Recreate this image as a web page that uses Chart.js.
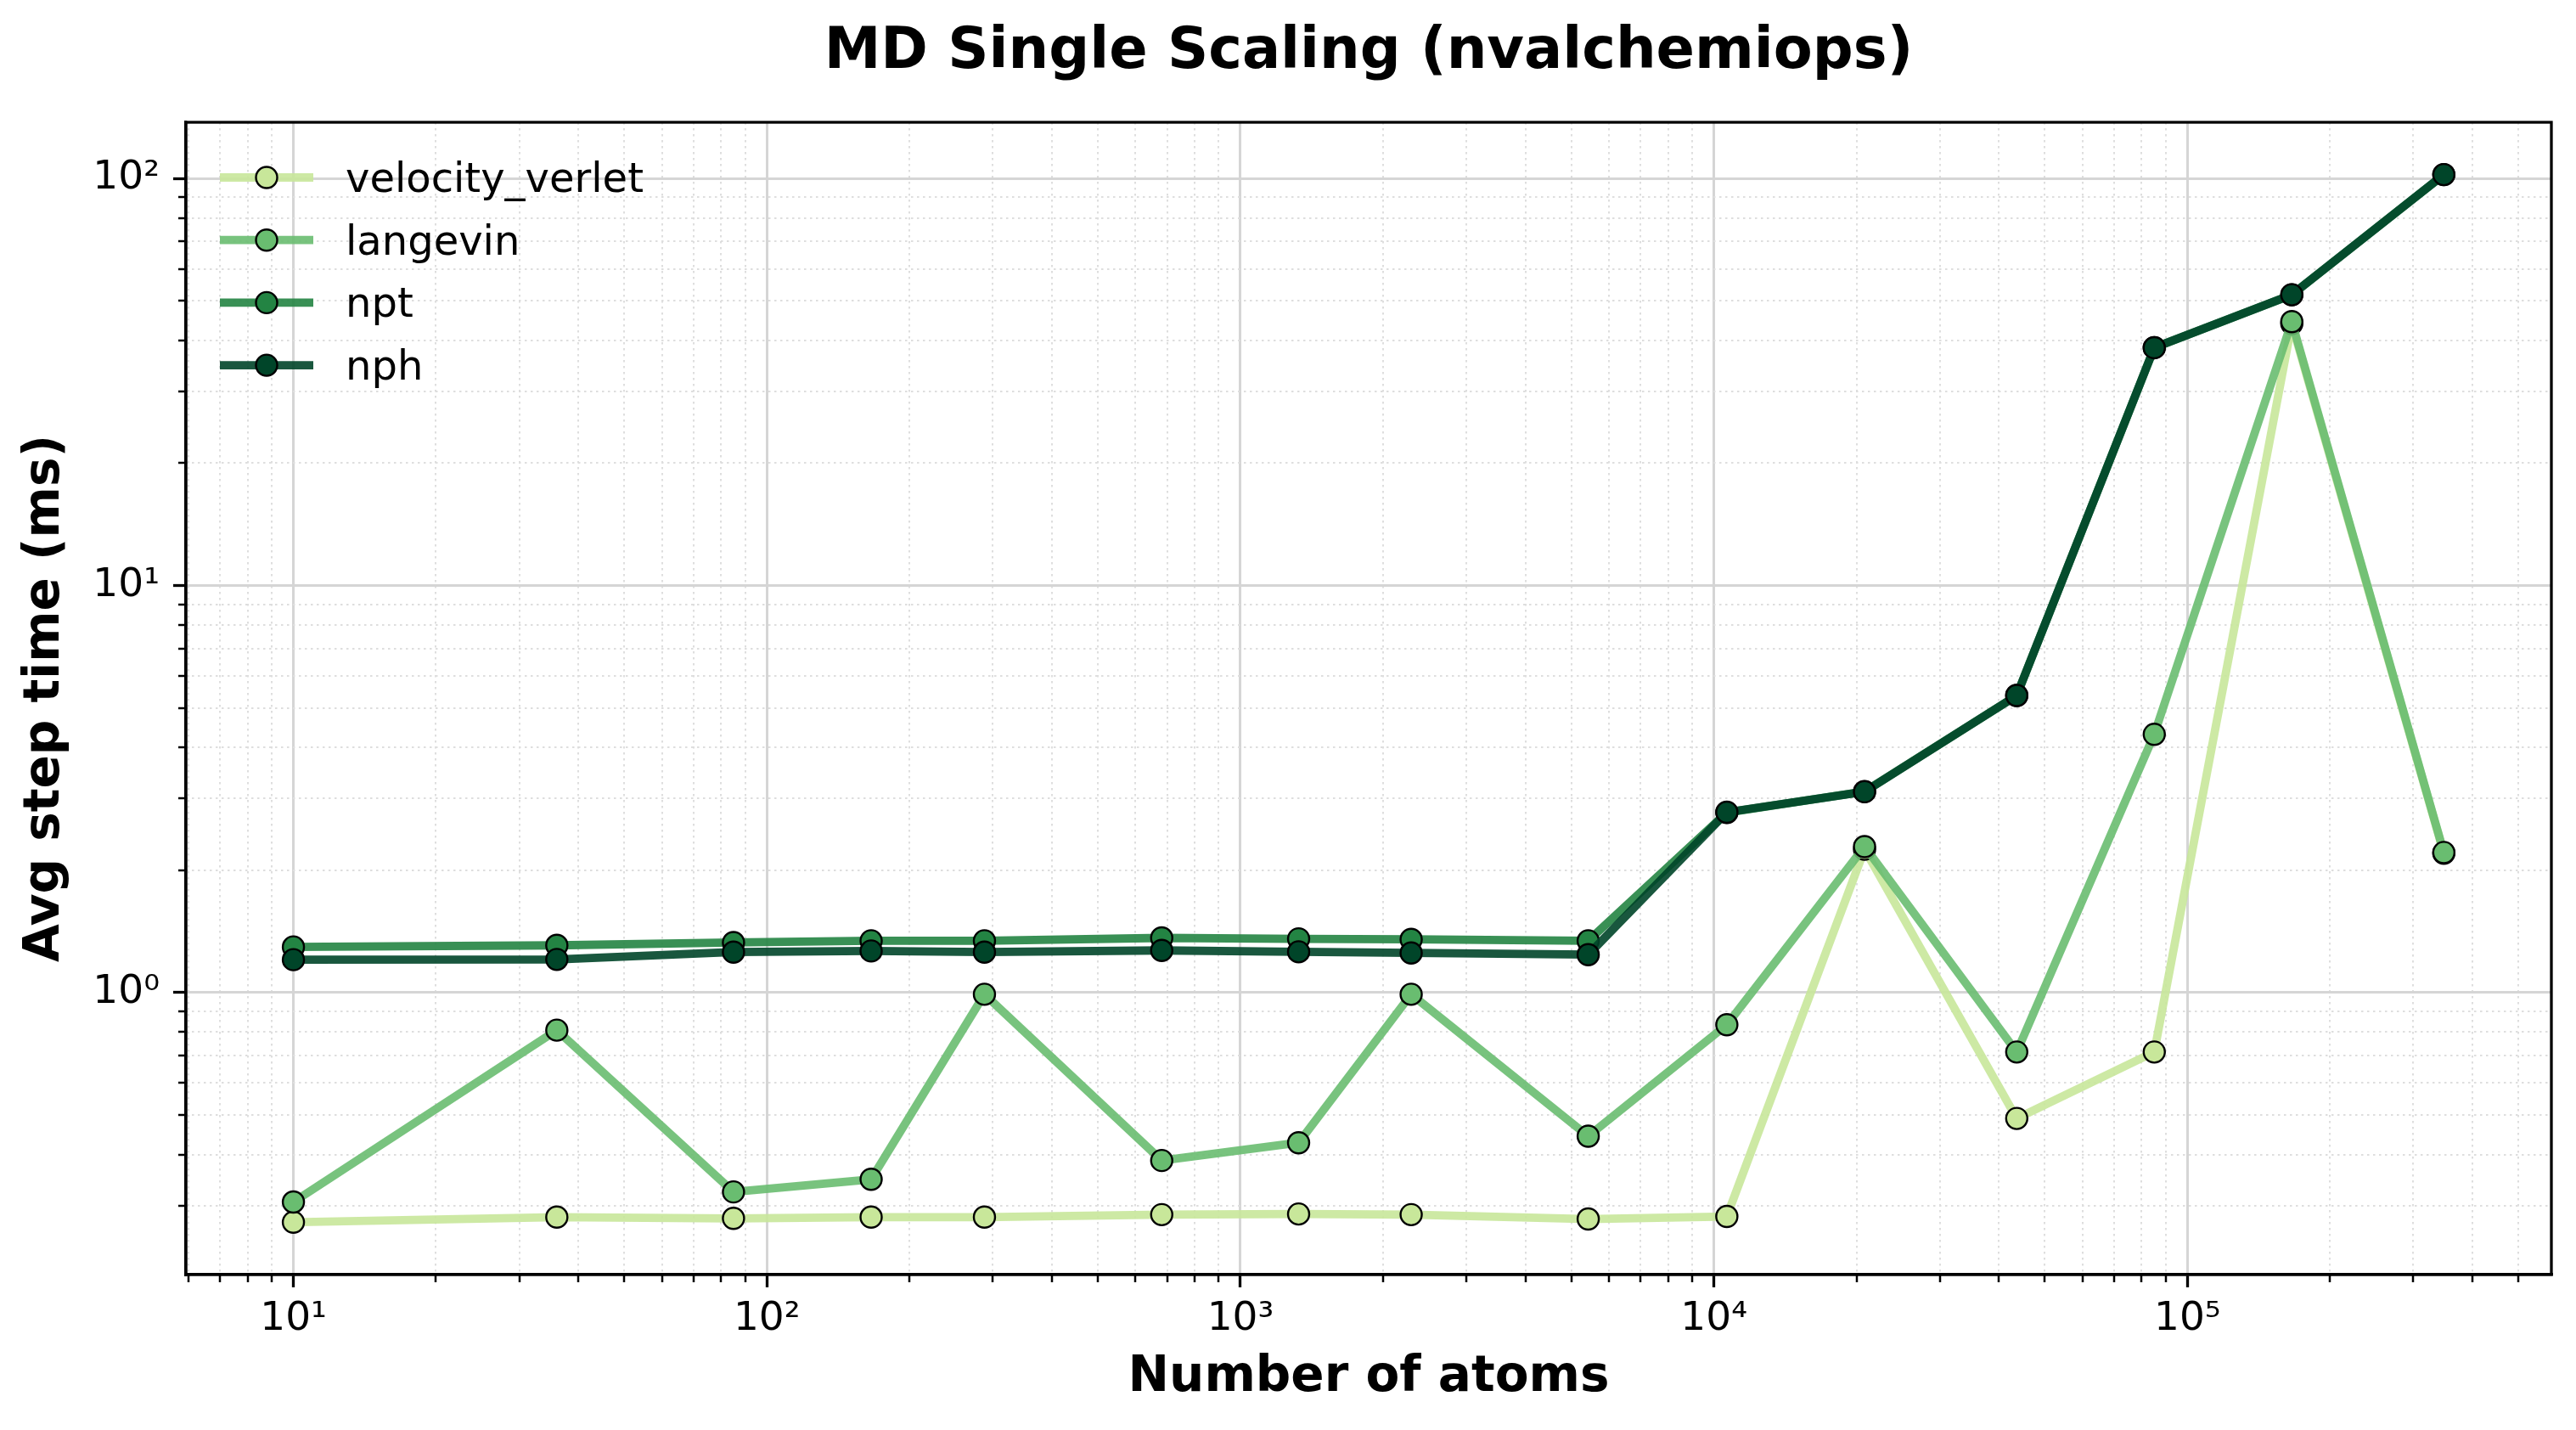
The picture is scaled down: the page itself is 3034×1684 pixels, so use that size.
<!DOCTYPE html>
<html>
<head>
<meta charset="utf-8">
<script src="https://cdn.jsdelivr.net/npm/chart.js@4.4.1/dist/chart.umd.min.js"></script>
<style>
html,body{margin:0;padding:0;background:#fff;}
canvas{display:block;}
</style>
</head>
<body>
<canvas id="c" width="3034" height="1684"></canvas>
<script>
// ---- data ----
const atoms = [10, 36, 85, 166, 288, 682, 1327, 2294, 5426, 10647, 20800, 43600, 85100, 166100, 347900];
const velocityVerlet = [0.273, 0.281, 0.279, 0.281, 0.281, 0.285, 0.286, 0.285, 0.278, 0.282, 2.25, 0.491, 0.715, 44.0, 2.2];
const langevin = [0.306, 0.809, 0.324, 0.348, 0.991, 0.387, 0.428, 0.991, 0.444, 0.834, 2.285, 0.715, 4.31, 44.5, 2.21];
const npt = [1.295, 1.307, 1.328, 1.341, 1.341, 1.363, 1.356, 1.352, 1.341, 2.77, 3.12, 5.37, 38.4, 51.8, 102.2];
const nph = [1.205, 1.207, 1.258, 1.266, 1.258, 1.270, 1.260, 1.252, 1.240, 2.775, 3.115, 5.37, 38.4, 51.8, 102.2];

const seriesNames = ['velocity_verlet', 'langevin', 'npt', 'nph'];
const seriesValues = [velocityVerlet, langevin, npt, nph];
const seriesColors = ['#c8e79a', '#69bd70', '#238443', '#004529'];

const xTickValues = [10, 100, 1000, 10000, 100000];
const xTickLabels = ['10\u00B9', '10\u00B2', '10\u00B3', '10\u2074', '10\u2075'];
const yTickValues = [1, 10, 100];
const yTickLabels = ['10\u2070', '10\u00B9', '10\u00B2'];

const titleText = 'MD Single Scaling (nvalchemiops)';
const xTitle = 'Number of atoms';
const yTitle = 'Avg step time (ms)';

// ---- helpers ----
function rgba(hex, a) {
  const n = parseInt(hex.slice(1), 16);
  return `rgba(${(n >> 16) & 255},${(n >> 8) & 255},${n & 255},${a})`;
}
function minorTicks(lo, hi) {
  const out = [];
  for (let d = -2; d <= 6; d++) {
    for (let m = 2; m <= 9; m++) {
      const v = m * Math.pow(10, d);
      if (v > lo && v < hi) out.push({value: v});
    }
  }
  return out;
}

const X_MIN = 5.93, X_MAX = 586900;
const Y_MIN = 0.203, Y_MAX = 137.4;
const FONT = 'DejaVu Sans';

Chart.defaults.font.family = FONT;
Chart.defaults.color = '#000';

const datasets = seriesNames.map((name, i) => ({
  label: name,
  data: atoms.map((a, j) => ({x: a, y: seriesValues[i][j]})),
  borderColor: rgba(seriesColors[i], 0.9),
  backgroundColor: seriesColors[i],
  pointBackgroundColor: seriesColors[i],
  pointBorderColor: '#000',
  pointBorderWidth: 2.4,
  pointRadius: 12.5,
  pointHoverRadius: 12.5,
  borderWidth: 9.8,
  borderJoinStyle: 'round',
  borderCapStyle: 'square',
  tension: 0,
  fill: false,
  order: seriesNames.length - i
}));

const framePlugin = {
  id: 'frame',
  afterDatasetsDraw(chart) {
    const {ctx, chartArea: a} = chart;
    ctx.save();
    ctx.strokeStyle = '#000';
    ctx.lineWidth = 3.3;
    ctx.strokeRect(a.left, a.top, a.right - a.left, a.bottom - a.top);
    ctx.restore();
  }
};

const legendPlugin = {
  id: 'mplLegend',
  afterDatasetsDraw(chart) {
    const {ctx, chartArea: a} = chart;
    const ds = chart.data.datasets;
    ctx.save();
    for (let i = 0; i < ds.length; i++) {
      const y = a.top + 65 + i * 73.7;
      const x0 = a.left + 40, x1 = a.left + 150, xm = a.left + 95;
      ctx.strokeStyle = ds[i].borderColor;
      ctx.lineWidth = ds[i].borderWidth;
      ctx.lineCap = 'butt';
      ctx.beginPath(); ctx.moveTo(x0, y); ctx.lineTo(x1, y); ctx.stroke();
      ctx.beginPath(); ctx.arc(xm, y, ds[i].pointRadius, 0, Math.PI * 2);
      ctx.fillStyle = ds[i].pointBackgroundColor; ctx.fill();
      ctx.lineWidth = ds[i].pointBorderWidth; ctx.strokeStyle = '#000'; ctx.stroke();
      ctx.fillStyle = '#000';
      ctx.font = `48px "${FONT}"`;
      ctx.textBaseline = 'alphabetic';
      ctx.textAlign = 'left';
      ctx.fillText(ds[i].label, a.left + 188, y + 17);
    }
    ctx.restore();
  }
};

new Chart(document.getElementById('c'), {
  type: 'line',
  data: {datasets},
  options: {
    responsive: false,
    devicePixelRatio: 1,
    animation: false,
    events: [],
    layout: {padding: {left: 0, right: 29, top: 0, bottom: 0}},
    plugins: {
      legend: {display: false},
      tooltip: {enabled: false},
      title: {
        display: true, text: titleText, fullSize: false, color: '#000',
        font: {family: FONT, size: 67, weight: 'bold', lineHeight: 1.2},
        padding: {top: 22, bottom: 41.6}
      }
    },
    scales: {
      x: {
        type: 'logarithmic', position: 'bottom', min: X_MIN, max: X_MAX, weight: 0,
        afterBuildTicks: s => { s.ticks = xTickValues.map(v => ({value: v})); },
        afterFit: s => { s.height = 183; },
        ticks: {
          callback: (v, i) => xTickLabels[i],
          font: {family: FONT, size: 47}, color: '#000', padding: 10,
          autoSkip: false, maxRotation: 0, minRotation: 0
        },
        grid: {color: '#d5d5d5', lineWidth: 3, tickLength: 15, tickWidth: 3.3, tickColor: '#000', drawTicks: true},
        border: {display: true, color: '#000', width: 3.3},
        title: {
          display: true, text: xTitle, color: '#000',
          font: {family: FONT, size: 58, weight: 'bold', lineHeight: 1.2},
          padding: {top: 0, bottom: 26}
        }
      },
      x2: {
        type: 'logarithmic', axis: 'x', position: 'bottom', min: X_MIN, max: X_MAX, weight: -1,
        afterBuildTicks: s => { s.ticks = minorTicks(X_MIN, X_MAX); },
        afterFit: s => { s.height = 0; },
        ticks: {display: false, autoSkip: false},
        grid: {color: '#dedede', lineWidth: 2, tickLength: 9, tickWidth: 2.5, tickColor: '#000', drawTicks: true, borderDash: [2.5, 4.5]},
        border: {display: false, dash: [2.5, 4.5]}
      },
      y: {
        type: 'logarithmic', position: 'left', min: Y_MIN, max: Y_MAX, weight: 0,
        afterBuildTicks: s => { s.ticks = yTickValues.map(v => ({value: v})); },
        afterFit: s => { s.width = 219; },
        ticks: {
          callback: (v, i) => yTickLabels[i],
          font: {family: FONT, size: 47}, color: '#000', padding: 16, autoSkip: false
        },
        grid: {color: '#d5d5d5', lineWidth: 3, tickLength: 15, tickWidth: 3.3, tickColor: '#000', drawTicks: true},
        border: {display: true, color: '#000', width: 3.3},
        title: {
          display: true, text: yTitle, color: '#000',
          font: {family: FONT, size: 58, weight: 'bold', lineHeight: 1.2},
          padding: {top: 19, bottom: 0}
        }
      },
      y2: {
        type: 'logarithmic', axis: 'y', position: 'left', min: Y_MIN, max: Y_MAX, weight: -1,
        afterBuildTicks: s => { s.ticks = minorTicks(Y_MIN, Y_MAX); },
        afterFit: s => { s.width = 0; },
        ticks: {display: false, autoSkip: false},
        grid: {color: '#dedede', lineWidth: 2, tickLength: 9, tickWidth: 2.5, tickColor: '#000', drawTicks: true, borderDash: [2.5, 4.5]},
        border: {display: false, dash: [2.5, 4.5]}
      }
    }
  },
  plugins: [framePlugin, legendPlugin]
});
</script>
</body>
</html>
